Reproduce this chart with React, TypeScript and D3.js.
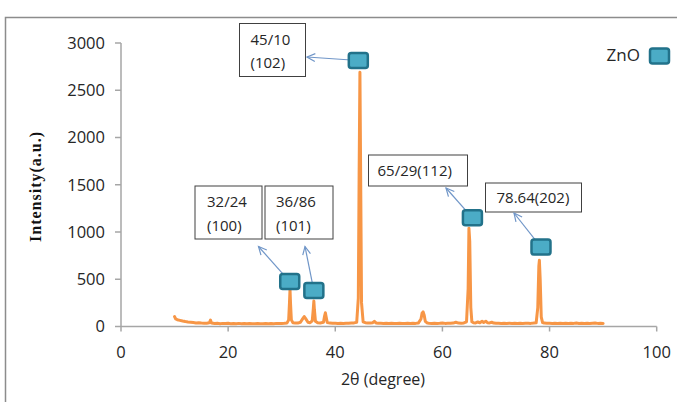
import React from "react";
import * as d3 from "d3";

// XRD scan: [2θ (degree), intensity (a.u.)]
const xrdScan: [number, number][] = [
  [10.0, 105], [10.2, 80], [10.5, 72], [11.0, 65], [11.5, 58], [12.0, 52], [12.5, 48], [13.0, 45],
  [13.5, 42], [14.0, 38], [14.5, 40], [15.0, 36], [15.5, 34], [16.0, 35], [16.5, 40], [16.7, 68],
  [16.9, 38], [17.5, 32], [18.0, 34], [18.5, 30], [19.0, 33], [19.5, 31], [20.0, 34], [20.5, 30],
  [21.0, 32], [21.5, 29], [22.0, 33], [22.5, 30], [23.0, 31], [23.5, 28], [24.0, 32], [24.5, 30],
  [25.0, 29], [25.5, 31], [26.0, 28], [26.5, 30], [27.0, 32], [27.5, 29], [28.0, 31], [28.5, 30],
  [29.0, 33], [29.5, 31], [30.0, 32], [30.5, 34], [31.0, 38], [31.3, 70], [31.45, 250], [31.55, 390],
  [31.65, 240], [31.8, 70], [32.1, 40], [32.5, 38], [33.0, 36], [33.5, 45], [33.9, 80], [34.2, 105],
  [34.5, 80], [34.9, 45], [35.3, 40], [35.7, 60], [35.9, 190], [36.0, 270], [36.1, 180], [36.3, 55],
  [36.7, 40], [37.2, 38], [37.8, 45], [38.0, 110], [38.15, 145], [38.3, 100], [38.5, 42], [39.0, 36],
  [39.5, 34], [40.0, 35], [40.5, 33], [41.0, 34], [41.5, 32], [42.0, 35], [42.5, 34], [43.0, 36],
  [43.5, 38], [44.0, 45], [44.3, 300], [44.45, 1600], [44.6, 2690], [44.75, 1500], [44.9, 250], [45.2, 50],
  [45.6, 40], [46.0, 38], [46.5, 36], [47.0, 40], [47.3, 55], [47.6, 38], [48.0, 35], [48.5, 34],
  [49.0, 33], [49.5, 35], [50.0, 32], [50.5, 34], [51.0, 33], [51.5, 31], [52.0, 34], [52.5, 32],
  [53.0, 33], [53.5, 35], [54.0, 32], [54.5, 34], [55.0, 33], [55.5, 36], [56.0, 80], [56.2, 140],
  [56.4, 155], [56.6, 120], [56.8, 55], [57.2, 36], [57.5, 34], [58.0, 33], [58.5, 35], [59.0, 32],
  [59.5, 34], [60.0, 38], [60.5, 33], [61.0, 35], [61.5, 34], [62.0, 36], [62.5, 45], [63.0, 36],
  [63.5, 35], [64.0, 38], [64.5, 50], [64.8, 400], [64.95, 1040], [65.1, 900], [65.3, 200], [65.5, 50],
  [65.8, 40], [66.2, 38], [66.6, 48], [67.0, 40], [67.4, 55], [67.7, 42], [68.1, 56], [68.4, 40],
  [68.8, 38], [69.2, 45], [69.6, 36], [70.0, 34], [70.5, 35], [71.0, 33], [71.5, 34], [72.0, 32],
  [72.5, 35], [73.0, 33], [73.5, 34], [74.0, 32], [74.5, 35], [75.0, 33], [75.5, 34], [76.0, 35],
  [76.5, 33], [77.0, 36], [77.5, 40], [77.8, 200], [78.0, 640], [78.1, 700], [78.25, 500], [78.45, 100],
  [78.7, 42], [79.0, 36], [79.5, 34], [80.0, 35], [80.5, 33], [81.0, 34], [81.5, 32], [82.0, 35],
  [82.5, 33], [83.0, 34], [83.5, 32], [84.0, 35], [84.5, 33], [85.0, 36], [85.5, 32], [86.0, 34],
  [86.5, 33], [87.0, 35], [87.5, 32], [88.0, 34], [88.5, 36], [89.0, 33], [89.5, 34], [90.0, 32],
];

// ZnO marker series
const znoTheta = [31.5, 36.0, 44.3, 65.6, 78.4];
const znoIntensity = [475, 380, 2815, 1150, 840];
const znoLabels = [
  ["32/24", "(100)"],
  ["36/86", "(101)"],
  ["45/10", "(102)"],
  ["65/29(112)"],
  ["78.64(202)"],
];

const xTicks = [0, 20, 40, 60, 80, 100];
const yTicks = [0, 500, 1000, 1500, 2000, 2500, 3000];

// layout (pixels) for annotation boxes and arrow heads
const boxLayout = [
  { x: 195, y: 186, w: 67, h: 53, tx: 12, head: [258.5, 246.5] },
  { x: 265, y: 186, w: 68, h: 53, tx: 11, head: [305, 246.5] },
  { x: 239.5, y: 23.5, w: 66, h: 53, tx: 11, head: [307, 57] },
  { x: 368.5, y: 155, w: 99, h: 31, tx: 9, head: [446, 188] },
  { x: 485.5, y: 183, w: 96, h: 29, tx: 11, head: [514, 213] },
];

const W = 677;
const H = 402;
const FONT = "'Open Sans', 'Noto Sans', sans-serif";

export default function App() {
  const x = d3.scaleLinear().domain([0, 100]).range([121, 656.7]);
  const y = d3.scaleLinear().domain([0, 3000]).range([326.5, 43]);
  const line = d3
    .line<[number, number]>()
    .x((d) => x(d[0]))
    .y((d) => y(d[1]))
    .curve(d3.curveLinear);

  const axisColor = "#a6a6a6";
  const arrowColor = "#7096c8";

  const arrow = (sx: number, sy: number, hx: number, hy: number, key: string) => {
    const ang = Math.atan2(sy - hy, sx - hx);
    const L = 9;
    const a1 = ang + 0.45;
    const a2 = ang - 0.45;
    return (
      <g key={key} stroke={arrowColor} strokeWidth={1.2} fill="none">
        <line x1={sx} y1={sy} x2={hx} y2={hy} />
        <polyline
          points={`${hx + L * Math.cos(a1)},${hy + L * Math.sin(a1)} ${hx},${hy} ${hx + L * Math.cos(a2)},${hy + L * Math.sin(a2)}`}
        />
      </g>
    );
  };

  return (
    <svg
      width={W}
      height={H}
      style={{ position: "absolute", left: 0, top: 0, background: "#fff" }}
    >
      <rect x={0} y={0} width={W} height={H} fill="#fff" />
      {/* chart frame */}
      <path d={`M5.5,${H} V17.5 H${W}`} fill="none" stroke="#8c8c8c" strokeWidth={1.5} />

      {/* y axis */}
      <line x1={x(0)} x2={x(0)} y1={y(0)} y2={y(3000)} stroke={axisColor} strokeWidth={1.5} />
      {yTicks.map((t) => (
        <g key={"y" + t}>
          <line x1={x(0) - 6} x2={x(0)} y1={y(t)} y2={y(t)} stroke={axisColor} strokeWidth={1.5} />
          <text
            x={105}
            y={y(t)}
            dy="0.35em"
            textAnchor="end"
            fontFamily={FONT}
            fontSize={16.5}
            fill="#262626"
          >
            {t}
          </text>
        </g>
      ))}

      {/* x axis */}
      <line x1={x(0)} x2={x(100)} y1={y(0)} y2={y(0)} stroke={axisColor} strokeWidth={1.5} />
      {xTicks.map((t) => (
        <g key={"x" + t}>
          <line x1={x(t)} x2={x(t)} y1={y(0)} y2={y(0) + 5} stroke={axisColor} strokeWidth={1.5} />
          <text
            x={x(t)}
            y={352}
            dy="0.35em"
            textAnchor="middle"
            fontFamily={FONT}
            fontSize={16.5}
            fill="#262626"
          >
            {t}
          </text>
        </g>
      ))}

      {/* axis titles */}
      <text
        x={383}
        y={379}
        dy="0.35em"
        textAnchor="middle"
        fontFamily={FONT}
        fontSize={16}
        fill="#262626"
      >
        2θ (degree)
      </text>
      <text
        transform="translate(35,187) rotate(-90)"
        textAnchor="middle"
        dy="0.35em"
        fontFamily="'Liberation Serif', 'DejaVu Serif', serif"
        fontWeight="bold"
        fontSize={16}
        textLength={110}
        lengthAdjust="spacing"
        fill="#111"
      >
        Intensity(a.u.)
      </text>

      {/* data line */}
      <path
        d={line(xrdScan) || ""}
        fill="none"
        stroke="#f79646"
        strokeWidth={3}
        strokeLinejoin="round"
        strokeLinecap="round"
      />

      {/* annotation boxes */}
      {boxLayout.map((b, i) => (
        <g key={"box" + i}>
          <rect x={b.x} y={b.y} width={b.w} height={b.h} fill="#fff" stroke="#404040" strokeWidth={1} />
          {znoLabels[i].map((ln, j) => (
            <text
              key={j}
              x={b.x + b.tx}
              y={
                znoLabels[i].length === 1
                  ? b.y + b.h / 2
                  : b.y + 16 + j * 23.5
              }
              dy="0.35em"
              fontFamily={FONT}
              fontSize={15}
              fill="#262626"
            >
              {ln}
            </text>
          ))}
        </g>
      ))}

      {/* arrows */}
      {boxLayout.map((b, i) =>
        arrow(x(znoTheta[i]), y(znoIntensity[i]), b.head[0], b.head[1], "ar" + i)
      )}

      {/* ZnO markers */}
      {znoTheta.map((t, i) => (
        <rect
          key={"m" + i}
          x={x(t) - 9.5}
          y={y(znoIntensity[i]) - 7.5}
          width={19}
          height={15}
          rx={2.5}
          fill="#4bacc6"
          stroke="#22728a"
          strokeWidth={2.5}
        />
      ))}

      {/* legend */}
      <text
        x={640}
        y={55}
        dy="0.35em"
        textAnchor="end"
        fontFamily={FONT}
        fontSize={17}
        fill="#262626"
      >
        ZnO
      </text>
      <rect x={650} y={48.5} width={19} height={15} rx={2.5} fill="#4bacc6" stroke="#22728a" strokeWidth={2.5} />
    </svg>
  );
}
